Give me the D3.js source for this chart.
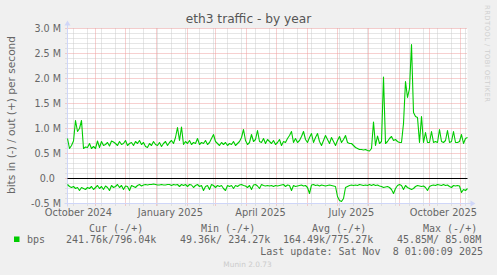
<!DOCTYPE html>
<html>
<head>
<meta charset="utf-8">
<script src="https://cdn.jsdelivr.net/npm/d3@7"></script>
<style>
  body { margin: 0; background: #f0f0f0; }
  svg { display: block; }
  text { font-family: "DejaVu Sans", sans-serif; fill: #666; }
  text.mono { font-family: "DejaVu Sans Mono", monospace; font-size: 10px; }
</style>
</head>
<body>
<div class="stage"></div>
<script>
var DAY = 86400000
var endTime = Date.UTC(2025, 10, 8, 1, 0, 9)
var startTime = endTime - 400 * DAY
var stepDays = 2

// bits/s in millions, one sample every 2 days from the start of the graph
var outValues = [
  0.80, 0.60, 0.66, 0.75, 1.16, 0.94, 1.00, 1.16, 0.60, 0.63,
  0.62, 0.70, 0.60, 0.64, 0.60, 0.75, 0.62, 0.74, 0.66, 0.68,
  0.72, 0.65, 0.75, 0.73, 0.70, 0.66, 0.74, 0.68, 0.70, 0.76,
  0.66, 0.70, 0.72, 0.66, 0.74, 0.70, 0.76, 0.68, 0.72, 0.64,
  0.62, 0.70, 0.66, 0.74, 0.68, 0.66, 0.72, 0.64, 0.70, 0.74,
  0.66, 0.72, 0.76, 0.70, 0.82, 1.02, 0.76, 1.03, 0.68, 0.74,
  0.70, 0.76, 0.68, 0.72, 0.70, 0.80, 0.68, 0.72, 0.70, 0.76,
  0.68, 0.72, 0.80, 0.88, 0.74, 0.70, 0.66, 0.72, 0.68, 0.72,
  0.66, 0.70, 0.68, 0.74, 0.66, 0.70, 0.74, 0.82, 0.98, 0.76,
  0.68, 0.72, 0.88, 0.74, 0.78, 0.96, 0.74, 0.72, 0.80, 0.70,
  0.78, 0.74, 0.70, 0.76, 0.68, 0.72, 0.78, 0.66, 0.74, 0.72,
  0.80, 0.86, 0.94, 0.72, 0.80, 0.72, 0.76, 0.84, 0.94, 0.78,
  0.72, 0.82, 0.90, 0.72, 0.82, 0.90, 0.74, 0.66, 0.76, 0.86,
  0.78, 0.70, 0.82, 0.74, 0.66, 0.76, 0.84, 0.72, 0.78, 0.86,
  0.72, 0.70, 0.70, 0.66, 0.62, 0.60, 0.58, 0.58, 0.57, 0.58,
  0.56, 0.55, 0.60, 1.13, 0.66, 0.85, 0.70, 0.74, 2.03, 0.70,
  0.74, 0.80, 0.84, 0.76, 0.78, 0.74, 0.72, 0.72, 1.10, 1.94,
  1.62, 1.80, 2.68, 1.32, 1.24, 1.22, 0.72, 1.24, 0.72, 0.92,
  0.72, 0.72, 0.94, 0.72, 0.74, 0.72, 0.98, 0.74, 0.72, 0.76,
  0.96, 0.72, 0.74, 0.94, 0.72, 0.72, 0.74, 0.88, 0.70, 0.80,
  0.82
]
var inValues = [
  0.12, 0.16, 0.18, 0.16, 0.20, 0.18, 0.24, 0.18, 0.20, 0.22,
  0.18, 0.20, 0.16, 0.22, 0.18, 0.14, 0.20, 0.16, 0.22, 0.15,
  0.18, 0.24, 0.14, 0.18, 0.16, 0.12, 0.18, 0.14, 0.22, 0.15,
  0.16, 0.24, 0.14, 0.16, 0.18, 0.14, 0.12, 0.15, 0.13, 0.12,
  0.13, 0.12, 0.12, 0.11, 0.12, 0.13, 0.13, 0.12, 0.13, 0.13,
  0.12, 0.12, 0.14, 0.12, 0.13, 0.12, 0.16, 0.12, 0.14, 0.12,
  0.16, 0.12, 0.13, 0.18, 0.14, 0.12, 0.16, 0.14, 0.24, 0.16,
  0.14, 0.22, 0.12, 0.14, 0.18, 0.14, 0.16, 0.14, 0.20, 0.24,
  0.14, 0.16, 0.14, 0.20, 0.14, 0.16, 0.13, 0.12, 0.14, 0.15,
  0.18, 0.14, 0.22, 0.13, 0.12, 0.15, 0.20, 0.12, 0.14, 0.15,
  0.14, 0.15, 0.14, 0.16, 0.14, 0.15, 0.14, 0.13, 0.12, 0.16,
  0.13, 0.14, 0.24, 0.14, 0.16, 0.15, 0.14, 0.13, 0.15, 0.14,
  0.18, 0.30, 0.13, 0.12, 0.14, 0.13, 0.15, 0.13, 0.14, 0.15,
  0.14, 0.13, 0.14, 0.15, 0.16, 0.36, 0.44, 0.46, 0.40, 0.18,
  0.16, 0.14, 0.13, 0.14, 0.13, 0.14, 0.12, 0.13, 0.14, 0.13,
  0.14, 0.12, 0.14, 0.12, 0.14, 0.13, 0.15, 0.16, 0.18, 0.17,
  0.16, 0.18, 0.22, 0.30, 0.20, 0.14, 0.12, 0.14, 0.22, 0.14,
  0.18, 0.20, 0.22, 0.20, 0.16, 0.14, 0.15, 0.16, 0.15, 0.18,
  0.24, 0.16, 0.14, 0.13, 0.14, 0.12, 0.13, 0.14, 0.12, 0.14,
  0.13, 0.16, 0.18, 0.14, 0.15, 0.14, 0.15, 0.28, 0.22, 0.24,
  0.20
]

var yTicks = [-0.5, 0, 0.5, 1, 1.5, 2, 2.5, 3]
var yLabels = ["-0.5 M", "0.0\u00a0\u00a0", "0.5 M", "1.0 M", "1.5 M", "2.0 M", "2.5 M", "3.0 M"]
var xLabelMonths = [Date.UTC(2024, 9, 1), Date.UTC(2025, 0, 1), Date.UTC(2025, 3, 1), Date.UTC(2025, 6, 1), Date.UTC(2025, 9, 1)]
var xLabels = ["October 2024", "January 2025", "April 2025", "July 2025", "October 2025"]
var legendHeads = ["Cur (-/+)", "Min (-/+)", "Avg (-/+)", "Max (-/+)"]
var legendValues = ["241.76k/796.04k", "49.36k/ 234.27k", "164.49k/775.27k", "45.85M/ 85.08M"]

var W = 497, H = 275
var plotLeft = 67.5, plotRight = 467.5, plotTop = 28.5, plotBottom = 203.5
var green = "#00cc00"

var svg = d3.select(".stage")
  .append("svg")
  .attr("width", W)
  .attr("height", H)

svg.append("rect").attr("width", W).attr("height", H).attr("fill", "#f0f0f0")

var x = d3.scaleUtc().domain([startTime, endTime]).range([plotLeft, plotRight])
var y = d3.scaleLinear().domain([-0.5, 3]).range([plotBottom, plotTop])

function crisp(v){ return Math.round(v - 0.5) + 0.5 }

// canvas
svg.append("rect")
  .attr("x", plotLeft).attr("y", plotTop)
  .attr("width", plotRight - plotLeft).attr("height", plotBottom - plotTop)
  .attr("fill", "#fff")

var grid = svg.append("g")

// minor grid: 0.1 M and 14-day steps aligned to the epoch
var minorY = d3.range(-5, 31).filter(function(d){ return d % 5 != 0 }).map(function(d){ return d / 10 })
grid.selectAll(".hminor").data(minorY).enter().append("line")
  .attr("x1", plotLeft - 2).attr("x2", plotRight)
  .attr("y1", function(d){ return crisp(y(d)) })
  .attr("y2", function(d){ return crisp(y(d)) })
  .attr("stroke", "#cccccc").attr("stroke-dasharray", "1,1")

var fortnight = 14 * DAY
var minorX = d3.range(Math.ceil(startTime / fortnight), Math.floor(endTime / fortnight) + 1).map(function(k){ return k * fortnight })
grid.selectAll(".vminor").data(minorX).enter().append("line")
  .attr("x1", function(d){ return crisp(x(d)) })
  .attr("x2", function(d){ return crisp(x(d)) })
  .attr("y1", plotTop).attr("y2", plotBottom + 2)
  .attr("stroke", "#cccccc").attr("stroke-dasharray", "1,1")

// major grid: 0.5 M and month starts
grid.selectAll(".hmajor").data(yTicks).enter().append("line")
  .attr("x1", plotLeft - 2).attr("x2", plotRight)
  .attr("y1", function(d){ return crisp(y(d)) })
  .attr("y2", function(d){ return crisp(y(d)) })
  .attr("stroke", "#eea0a0").attr("stroke-dasharray", "1,1")

var months = d3.utcMonth.range(new Date(startTime), new Date(endTime))
grid.selectAll(".vmajor").data(months).enter().append("line")
  .attr("x1", function(d){ return crisp(x(d)) })
  .attr("x2", function(d){ return crisp(x(d)) })
  .attr("y1", plotTop).attr("y2", plotBottom + 3)
  .attr("stroke", "#eea0a0").attr("stroke-dasharray", "1,1")

// axes with arrows
var axisColor = "#cfd6f8"
svg.append("line")
  .attr("x1", plotLeft).attr("x2", plotLeft).attr("y1", plotBottom + 3).attr("y2", plotTop - 4)
  .attr("stroke", axisColor)
svg.append("line")
  .attr("x1", plotLeft - 3).attr("x2", plotRight + 4).attr("y1", plotBottom).attr("y2", plotBottom)
  .attr("stroke", axisColor)
svg.append("path")
  .attr("d", "M" + (plotLeft - 3) + "," + (plotTop - 3) + "L" + (plotLeft + 3) + "," + (plotTop - 3) + "L" + plotLeft + "," + (plotTop - 8) + "Z")
  .attr("fill", axisColor)
svg.append("path")
  .attr("d", "M" + (plotRight + 3) + "," + (plotBottom - 3) + "L" + (plotRight + 3) + "," + (plotBottom + 3) + "L" + (plotRight + 8) + "," + plotBottom + "Z")
  .attr("fill", axisColor)

// series
function sampleTime(i){ return startTime + i * stepDays * DAY }

var line = d3.line()
  .x(function(d, i){ return x(sampleTime(i)) })
  .y(function(d){ return y(d) })

svg.append("path")
  .datum(outValues)
  .attr("d", line)
  .attr("fill", "none")
  .attr("stroke", green)
  .attr("stroke-width", 1.1)
  .attr("stroke-linejoin", "round")

svg.append("path")
  .datum(inValues.map(function(v){ return -v }))
  .attr("d", line)
  .attr("fill", "none")
  .attr("stroke", green)
  .attr("stroke-width", 1.1)
  .attr("stroke-linejoin", "round")

// zero rule
svg.append("line")
  .attr("x1", plotLeft).attr("x2", plotRight)
  .attr("y1", y(0)).attr("y2", y(0))
  .attr("stroke", "#000").attr("stroke-width", 1.2)

// y tick labels
svg.selectAll(".ylab").data(yTicks).enter().append("text")
  .attr("x", 61)
  .attr("y", function(d){ return y(d) + 3.5 })
  .attr("text-anchor", "end")
  .style("font-size", "9.6px")
  .text(function(d, i){ return yLabels[i] })

// x labels, centered half a month after the month start like rrdtool does
svg.selectAll(".xlab").data(xLabelMonths).enter().append("text")
  .attr("x", function(d){ return x(d + 14 * DAY) })
  .attr("y", 216)
  .attr("text-anchor", "middle")
  .style("font-size", "9.8px")
  .text(function(d, i){ return xLabels[i] })

// title and axis title
svg.append("text")
  .attr("x", 248.5).attr("y", 23)
  .attr("text-anchor", "middle")
  .style("font-size", "12.2px")
  .style("fill", "#555")
  .text("eth3 traffic - by year")

svg.append("text")
  .attr("transform", "translate(15,115) rotate(-90)")
  .attr("text-anchor", "middle")
  .style("font-size", "10.6px")
  .text("bits in (-) / out (+) per second")

svg.append("text")
  .attr("transform", "translate(485,5) rotate(90)")
  .attr("textLength", 97)
  .style("font-size", "6.8px")
  .style("fill", "#cfcfcf")
  .text("RRDTOOL / TOBI OETIKER")

// legend
var headX = [89, 201, 312, 423]
var valX = [66, 180, 283, 397]
svg.selectAll(".lhead").data(legendHeads).enter().append("text")
  .attr("class", "mono")
  .attr("x", function(d, i){ return headX[i] })
  .attr("y", 231.5)
  .text(function(d){ return d })

svg.append("rect")
  .attr("x", 14).attr("y", 236.5).attr("width", 5.5).attr("height", 5.5)
  .attr("fill", green)
svg.append("text").attr("class", "mono").attr("x", 27).attr("y", 242.5).text("bps")

svg.selectAll(".lval").data(legendValues).enter().append("text")
  .attr("class", "mono")
  .attr("x", function(d, i){ return valX[i] })
  .attr("y", 242.5)
  .style("white-space", "pre")
  .text(function(d){ return d })

svg.append("text")
  .attr("class", "mono")
  .attr("x", 483).attr("y", 255)
  .attr("text-anchor", "end")
  .style("white-space", "pre")
  .text("Last update: Sat Nov  8 01:00:09 2025")

svg.append("text")
  .attr("x", 247.5).attr("y", 267)
  .attr("text-anchor", "middle")
  .style("font-size", "7.4px")
  .style("fill", "#cccccc")
  .text("Munin 2.0.73")
</script>
</body>
</html>
